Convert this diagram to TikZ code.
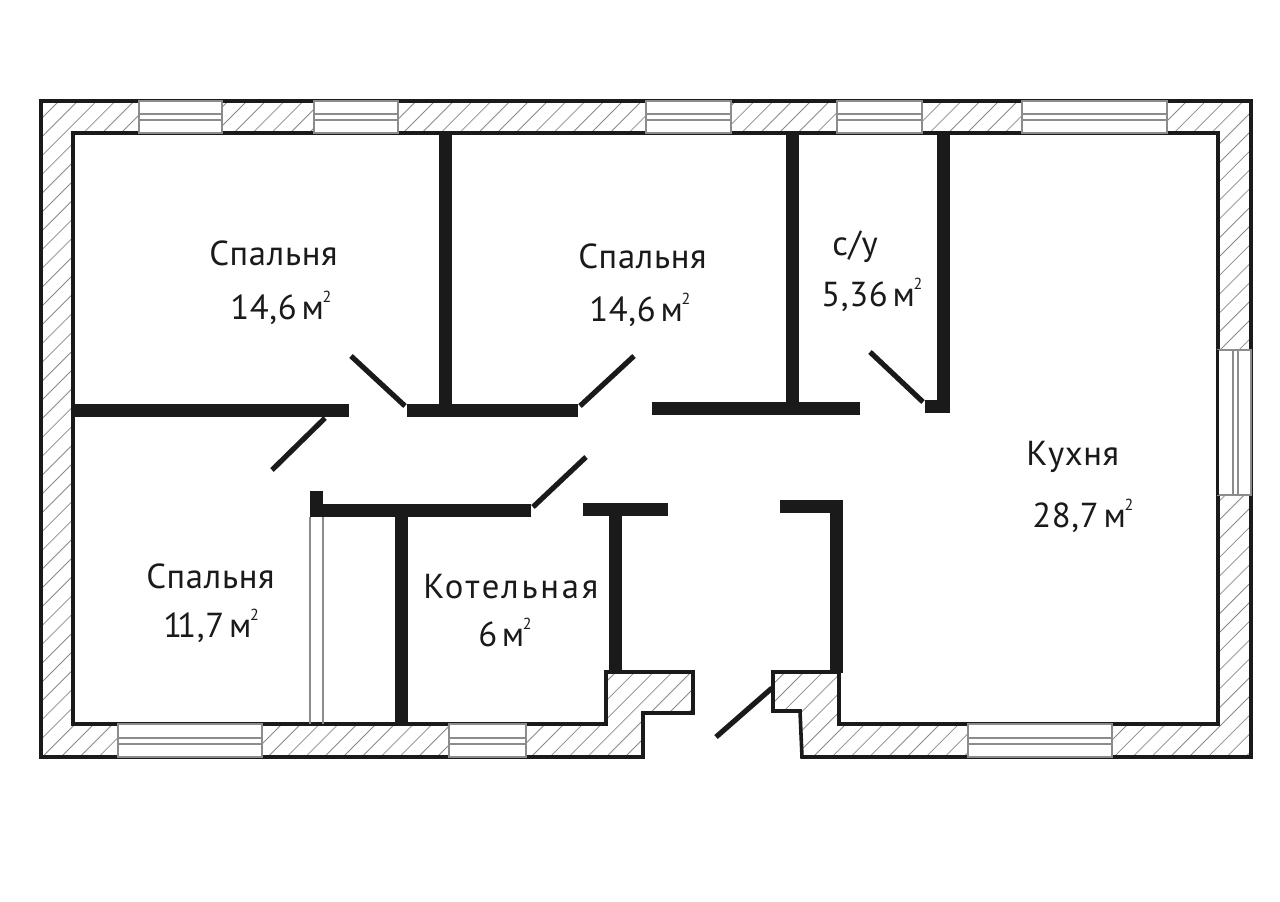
\documentclass[tikz,border=0pt]{standalone}
\usepackage{fontspec}
\setmainfont{PT Sans}[LetterSpace=2]
\newfontfamily\widelabel{PT Sans}[LetterSpace=8]
\definecolor{ink}{HTML}{1A1A1A}
\definecolor{hatchc}{HTML}{8A8A8A}
\definecolor{winc}{HTML}{8C8C8C}
\tikzset{
  wallline/.style={draw=ink,line width=2.7pt,line join=miter},
  hatchline/.style={draw=hatchc,line width=0.6pt},
  windowbox/.style={draw=winc,fill=white,line width=0.8pt},
  windowline/.style={draw=winc,line width=0.8pt},
  partition/.style={fill=ink,draw=none},
  leaf/.style={draw=ink,line width=3.9pt},
  roomlabel/.style={inner sep=0pt,anchor=base west,font=\fontsize{26}{26}\selectfont,text=ink},
}
\newcommand{\sqm}{\hspace{0.14em}м\hspace{-0.04em}\raisebox{0.47em}{\fontsize{12}{12}\selectfont 2}}
\begin{document}
\begin{tikzpicture}[x=0.75pt,y=-0.75pt]
\useasboundingbox (0,0) rectangle (1280,902);
\fill[white] (0,0) rectangle (1280,902);
\def\wallpath{(41,101) -- (1251,101) -- (1251,757) -- (802,757) -- (800,711) -- (773,711) -- (773,672) -- (839,672) -- (839,724) -- (1218,724) -- (1218,133) -- (73,133) -- (73,724) -- (606,724) -- (606,672) -- (693,672) -- (693,713) -- (643,713) -- (643,757) -- (41,757) -- cycle}
\begin{scope}
  \clip \wallpath;
  \foreach \c in {0,...,105} {
    \pgfmathsetmacro{\s}{160+18.8*\c}
    \draw[hatchline] (\s-101,101) -- (\s-760,760);
  }
\end{scope}
\draw[wallline] \wallpath;
% top windows
\foreach \a/\b in {139/222,314/398,646/731,837/922,1022/1167} {
  \draw[windowbox] (\a,101) rectangle (\b,133);
  \draw[windowline] (\a,114) -- (\b,114) (\a,120) -- (\b,120);
}
% bottom windows
\foreach \a/\b in {118/262,449/526,968/1112} {
  \draw[windowbox] (\a,724) rectangle (\b,757);
  \draw[windowline] (\a,738) -- (\b,738) (\a,744) -- (\b,744);
}
% right window
\draw[windowbox] (1218,350) rectangle (1251,495);
\draw[windowline] (1233,350) -- (1233,495) (1238,350) -- (1238,495);
\draw[ink,line width=1.5pt] (1218,350) -- (1218,495);
% thin sliding partition
\draw[windowline] (310,517) -- (310,724) (323,517) -- (323,724);
% partitions
\fill[partition] (73,404) rectangle (349,417);
\fill[partition] (439,133) rectangle (452,404);
\fill[partition] (407,404) rectangle (578,417);
\fill[partition] (786,133) rectangle (799,403);
\fill[partition] (652,402) rectangle (860,415);
\fill[partition] (937,133) rectangle (950,413);
\fill[partition] (925,400) rectangle (950,413);
\fill[partition] (310,491) rectangle (323,517);
\fill[partition] (310,504) rectangle (531,517);
\fill[partition] (395,517) rectangle (408,724);
\fill[partition] (583,503) rectangle (668,516);
\fill[partition] (609,516) rectangle (622,672);
\fill[partition] (780,500) rectangle (843,513);
\fill[partition] (830,500) rectangle (843,673);
% door leaves
\draw[leaf] (351,356) -- (405,406);
\draw[leaf] (634,356) -- (580,406);
\draw[leaf] (325,418) -- (272,470);
\draw[leaf] (586,457) -- (533,507);
\draw[leaf] (870,352) -- (923,402);
\draw[leaf] (772,688) -- (716,737);
% labels
\node[roomlabel] (s1) at (209,265) {Спальня};
\node[roomlabel] (a1) at (230,319) {14,6\sqm};
\node[roomlabel] (s2) at (578,268) {Спальня};
\node[roomlabel] (a2) at (589,321) {14,6\sqm};
\node[roomlabel] (wc) at (832,256) {с/у};
\node[roomlabel] (a3) at (821,306) {5,36\sqm};
\node[roomlabel] (k) at (1026,465) {Кухня};
\node[roomlabel] (a4) at (1032,527) {28,7\sqm};
\node[roomlabel] (s3) at (146,588) {Спальня};
\node[roomlabel] (a5) at (163,637) {1\hspace{-0.14em}1,7\sqm};
\node[roomlabel] (b) at (423,598) {\widelabel Котельная};
\node[roomlabel] (a6) at (478,646) {6\sqm};
\end{tikzpicture}
\end{document}
